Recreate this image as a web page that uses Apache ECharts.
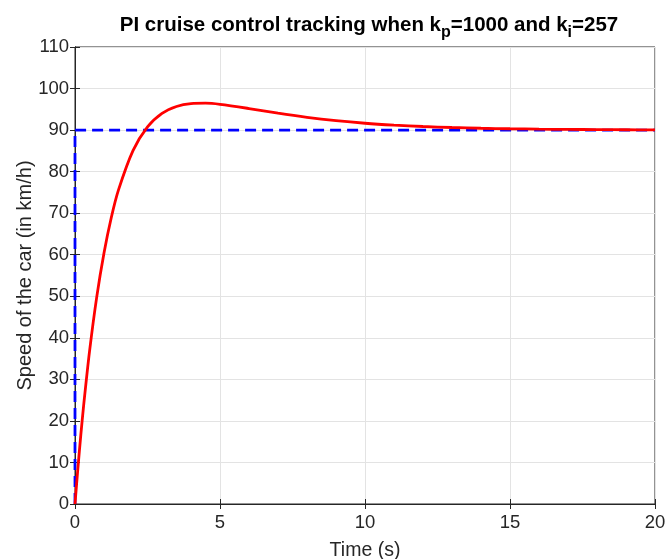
<!DOCTYPE html>
<html>
<head>
<meta charset="utf-8">
<script src="https://cdn.jsdelivr.net/npm/echarts@6/dist/echarts.min.js"></script>
<style>html,body{margin:0;padding:0;background:#fff;}#c{width:665px;height:559px;}</style>
</head>
<body>
<div id="c"></div>
<script>
const timeValues = [0, 0.1, 0.2, 0.3, 0.5, 0.75, 1, 1.25, 1.5, 2, 2.5, 3, 3.5, 4, 4.5, 5, 6, 7, 8, 9, 10, 11, 12, 13, 14, 15, 16, 17, 18, 19, 20];
const speedValues = [0, 8.63, 16.56, 23.84, 36.66, 49.85, 60.43, 68.89, 75.60, 85.06, 90.76, 94.01, 95.69, 96.38, 96.47, 96.20, 95.19, 94.06, 93.07, 92.27, 91.65, 91.20, 90.86, 90.62, 90.44, 90.32, 90.23, 90.16, 90.12, 90.08, 90.06];
const refTimes = [0, 0, 20];
const refValues = [0, 90, 90];
const xTicks = [0, 5, 10, 15, 20];
const yTicks = [0, 10, 20, 30, 40, 50, 60, 70, 80, 90, 100, 110];

const font = 'Liberation Sans, Arial, Helvetica, sans-serif';
const chart = echarts.init(document.getElementById('c'));
const axisColor = '#262626';
chart.setOption({
  animation: false,
  backgroundColor: '#fff',
  title: {
    text: 'PI cruise control tracking when k{sub|p}=1000 and k{sub|i}=257',
    left: 364, top: 4, textAlign: 'center',
    textStyle: {
      fontFamily: font, fontSize: 20.5, fontWeight: 'bold', color: '#000',
      rich: {
        sub: {fontFamily: font, fontSize: 16, fontWeight: 'bold', color: '#000', padding: [16, 0, 0, 0]}
      }
    }
  },
  grid: {left: 75, right: 10, top: 47, bottom: 55, containLabel: false, outerBoundsMode: 'none', show: true, borderColor: axisColor, borderWidth: 1},
  xAxis: [{
    type: 'value', min: xTicks[0], max: xTicks[xTicks.length - 1], interval: 5,
    name: 'Time (s)', nameLocation: 'middle', nameGap: 37, nameMoveOverlap: false,
    nameTextStyle: {fontFamily: font, fontSize: 19.5, color: axisColor},
    axisLine: {show: true, lineStyle: {color: axisColor}},
    axisTick: {show: true, inside: true, length: 5, lineStyle: {color: axisColor}},
    axisLabel: {fontFamily: font, fontSize: 18.5, color: axisColor, margin: 9},
    splitLine: {show: true, lineStyle: {color: '#e3e3e3'}}
  }, {
    type: 'value', position: 'top', min: 0, max: 20, interval: 5,
    axisLine: {show: true, lineStyle: {color: axisColor}},
    axisTick: {show: true, inside: true, length: 5, lineStyle: {color: axisColor}},
    axisLabel: {show: false}, splitLine: {show: false}
  }],
  yAxis: [{
    type: 'value', min: yTicks[0], max: yTicks[yTicks.length - 1], interval: 10,
    name: 'Speed of the car (in km/h)', nameLocation: 'middle', nameGap: 40, nameMoveOverlap: false,
    nameTextStyle: {fontFamily: font, fontSize: 20, color: axisColor},
    axisLine: {show: true, lineStyle: {color: axisColor}},
    axisTick: {show: true, inside: true, length: 5, lineStyle: {color: axisColor}},
    axisLabel: {fontFamily: font, fontSize: 18.5, color: axisColor, margin: 6},
    splitLine: {show: true, lineStyle: {color: '#e3e3e3'}}
  }, {
    type: 'value', position: 'right', min: 0, max: 110, interval: 10,
    axisLine: {show: true, lineStyle: {color: axisColor}},
    axisTick: {show: true, inside: true, length: 5, lineStyle: {color: axisColor}},
    axisLabel: {show: false}, splitLine: {show: false}
  }],
  series: [{
    type: 'line', xAxisIndex: 0, yAxisIndex: 0,
    data: refTimes.map((t, i) => [t, refValues[i]]),
    showSymbol: false, symbol: 'none',
    lineStyle: {color: '#0000ff', width: 2.8, type: [11, 6]}
  }, {
    type: 'line', xAxisIndex: 0, yAxisIndex: 0,
    data: timeValues.map((t, i) => [t, speedValues[i]]),
    showSymbol: false, symbol: 'none', smooth: 0.3,
    lineStyle: {color: '#ff0000', width: 2.8}
  }]
});
</script>
</body>
</html>
